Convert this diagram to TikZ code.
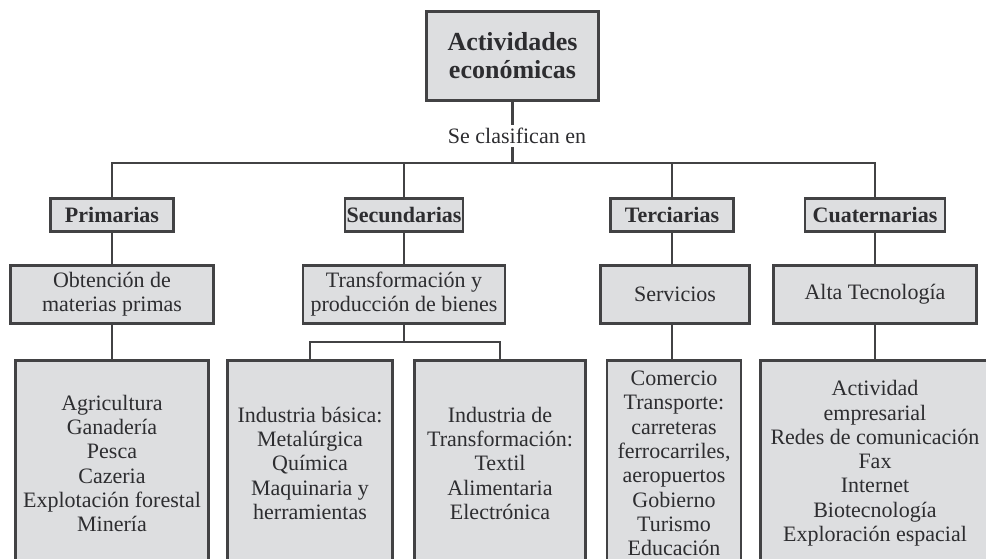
\documentclass[tikz,border=0pt]{standalone}
\usepackage{fontspec}
\setmainfont{Liberation Serif}
\usetikzlibrary{positioning}
\definecolor{boxGris}{RGB}{221,222,224}
\definecolor{lineaGris}{RGB}{66,66,68}
\definecolor{textoGris}{RGB}{45,45,48}

\begin{document}
\begin{tikzpicture}[
      x=1pt,y=-1pt,
      node distance=31pt,
      basebox/.style={draw=lineaGris,line width=2.8pt,fill=boxGris,text=textoGris,inner sep=0pt,align=center},
      titlebox/.style={basebox,minimum width=172pt,minimum height=89pt,font=\fontsize{26}{28}\selectfont\bfseries},
      catbox/.style={basebox,minimum height=33pt,font=\fontsize{22}{24}\selectfont\bfseries},
      descbox/.style={basebox,minimum height=58pt,font=\fontsize{22}{24}\selectfont},
      listbox/.style={basebox,anchor=north,minimum height=206pt,font=\fontsize{22}{24.3}\selectfont},
      conn/.style={draw=lineaGris,line width=2.6pt}
    ]
    \useasboundingbox (0,0) rectangle (986,559);
    \clip (0,0) rectangle (986,559);
    \node[titlebox] (act) at (512.5,56) {Actividades\\económicas};
    \node[text=textoGris,font=\fontsize{22}{24}\selectfont,inner sep=3pt] (clas) at (517,136) {Se clasifican en};
    \coordinate (hub) at (512.5,163);
    \node[catbox,minimum width=123pt] (prim) at (112,215) {Primarias};
    \node[catbox,minimum width=118pt] (sec) at (404,215) {Secundarias};
    \node[catbox,minimum width=123pt] (ter) at (672,215) {Terciarias};
    \node[catbox,minimum width=140pt] (cuat) at (875,215) {Cuaternarias};
    \node[descbox,minimum width=203pt,below=of prim] (obt) {Obtención de\\materias primas};
    \node[descbox,minimum width=202pt,below=of sec] (trans) {Transformación y\\producción de bienes};
    \node[descbox,minimum width=149pt,below=of ter,xshift=3pt] (serv) {Servicios};
    \node[descbox,minimum width=203pt,below=of cuat] (alta) {Alta Tecnología};
    \node[listbox,minimum width=193pt] (listprim) at (112,359) {Agricultura\\Ganadería\\Pesca\\Cazeria\\Explotación forestal\\Minería};
    \node[listbox,minimum width=165pt] (basica) at (310,359) {Industria básica:\\Metalúrgica\\Química\\Maquinaria y\\herramientas};
    \node[listbox,minimum width=171pt] (indtrans) at (500,359) {Industria de\\Transformación:\\Textil\\Alimentaria\\Electrónica};
    \node[listbox,minimum width=134pt] (listter) at (674,359) {Comercio\\Transporte:\\carreteras\\ferrocarriles,\\aeropuertos\\Gobierno\\Turismo\\Educación};
    \node[listbox,minimum width=229pt] (listcuat) at (875,359) {Actividad\\empresarial\\Redes de comunicación\\Fax\\Internet\\Biotecnología\\Exploración espacial};
    \coordinate (split) at (404,342);
    \draw[conn] (act) -- (act |- clas.north);
    \draw[conn] (act |- clas.south) -- (hub);
    \draw[conn] (prim) -- (prim |- hub) -- (cuat |- hub) -- (cuat);
    \draw[conn] (sec) -- (sec |- hub);
    \draw[conn] (ter) -- (ter |- hub);
    \draw[conn] (prim) -- (obt);
    \draw[conn] (sec) -- (trans);
    \draw[conn] (ter) -- (ter |- serv.north);
    \draw[conn] (cuat) -- (alta);
    \draw[conn] (obt) -- (listprim);
    \draw[conn] (trans) -- (split);
    \draw[conn] (basica) -- (basica |- split) -- (indtrans |- split) -- (indtrans);
    \draw[conn] (ter |- serv.south) -- (ter |- listter.north);
    \draw[conn] (alta) -- (listcuat);
  \end{tikzpicture}
\end{document}
